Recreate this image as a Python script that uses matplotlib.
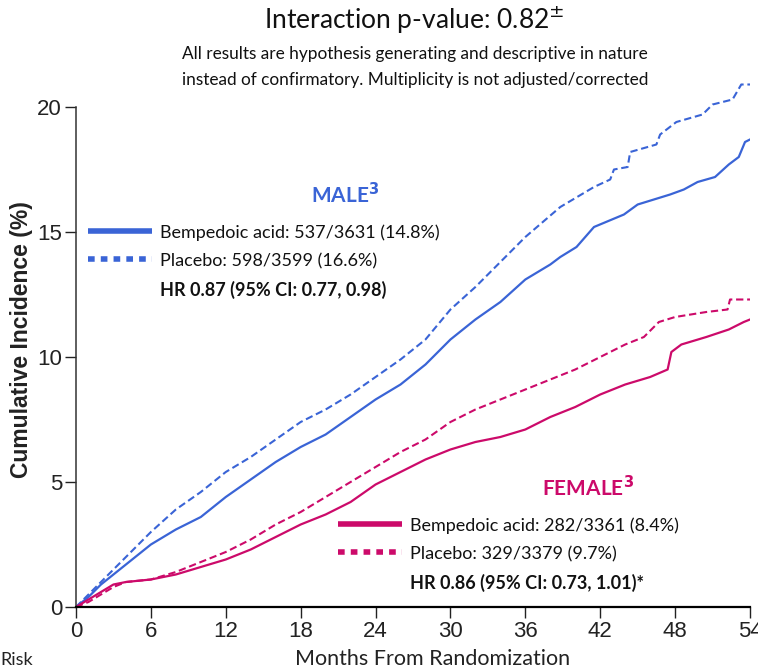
import matplotlib
matplotlib.use('Agg')
import matplotlib.pyplot as plt

# curve readings (months, cumulative incidence %)
male_bemp_t = [0, 1, 2, 3, 4, 6, 8, 10, 12, 14, 16, 18, 20, 22, 24, 26, 28, 30, 32, 34, 36, 38,
               38.8, 40.1, 41.5, 43.9, 45.0, 46.3, 47.6, 48.7, 49.8, 51.2, 52.3, 53.1, 53.6, 54]
male_bemp_y = [0, 0.4, 0.9, 1.3, 1.7, 2.5, 3.1, 3.6, 4.4, 5.1, 5.8, 6.4, 6.9, 7.6, 8.3, 8.9, 9.7, 10.7, 11.5, 12.2, 13.1, 13.7,
               14.0, 14.4, 15.2, 15.7, 16.1, 16.3, 16.5, 16.7, 17.0, 17.2, 17.7, 18.0, 18.6, 18.7]

male_plac_t = [0, 1, 2, 3, 4, 6, 8, 10, 12, 14, 16, 18, 20, 22, 24, 26, 28, 30, 32, 34, 36, 38.8,
               41.5, 42.8, 43.1, 44.2, 44.4, 46.5, 46.8, 48.1, 50.2, 51.0, 52.6, 53.3, 54]
male_plac_y = [0, 0.5, 1.0, 1.5, 2.0, 3.0, 3.9, 4.6, 5.4, 6.0, 6.7, 7.4, 7.9, 8.5, 9.2, 9.9, 10.7, 11.9, 12.8, 13.8, 14.8, 16.0,
               16.8, 17.1, 17.5, 17.6, 18.2, 18.5, 18.9, 19.4, 19.7, 20.1, 20.3, 20.9, 20.9]

fem_bemp_t = [0, 1, 2, 3, 4, 6, 8, 10, 12, 14, 16, 18, 20, 22, 24, 26, 28, 30, 32, 34, 36, 38, 40, 42, 44, 46,
              47.4, 47.7, 48.5, 50.5, 52.3, 53.5, 54]
fem_bemp_y = [0, 0.3, 0.6, 0.9, 1.0, 1.1, 1.3, 1.6, 1.9, 2.3, 2.8, 3.3, 3.7, 4.2, 4.9, 5.4, 5.9, 6.3, 6.6, 6.8, 7.1, 7.6, 8.0, 8.5, 8.9, 9.2,
              9.5, 10.2, 10.5, 10.8, 11.1, 11.4, 11.5]

fem_plac_t = [0, 1, 2, 3, 4, 6, 8, 10, 12, 14, 16, 18, 20, 22, 24, 26, 28, 30, 32, 34, 36, 38, 40, 42, 44, 45.5,
              46.7, 48, 50.5, 52.2, 52.4, 54]
fem_plac_y = [0, 0.2, 0.5, 0.8, 1.0, 1.1, 1.4, 1.8, 2.2, 2.7, 3.3, 3.8, 4.4, 5.0, 5.6, 6.2, 6.7, 7.4, 7.9, 8.3, 8.7, 9.1, 9.5, 10.0, 10.5, 10.8,
              11.4, 11.6, 11.8, 11.9, 12.3, 12.3]

x_ticks = [0, 6, 12, 18, 24, 30, 36, 42, 48, 54]
y_ticks = [0, 5, 10, 15, 20]

blue = '#3a64d6'
pink = '#cc0a6a'
body = ['Lato', 'DejaVu Sans']

fig = plt.figure(figsize=(7.58, 6.69), dpi=100)
ax = fig.add_axes([76 / 758, 1 - 607 / 669, 674 / 758, 525 / 669])

ax.plot(male_bemp_t, male_bemp_y, color=blue, lw=1.6)
ax.plot(male_plac_t, male_plac_y, color=blue, lw=1.5, ls=(0, (3.5, 1.8)))
ax.plot(fem_bemp_t, fem_bemp_y, color=pink, lw=1.6)
ax.plot(fem_plac_t, fem_plac_y, color=pink, lw=1.5, ls=(0, (3.5, 1.8)))

ax.set_xlim(0, 54)
ax.set_ylim(0, 21)
ax.spines['top'].set_visible(False)
ax.spines['right'].set_visible(False)
ax.spines['left'].set_bounds(0, 20)
ax.spines['left'].set_linewidth(1.1)
ax.spines['left'].set_color('#333333')
ax.spines['bottom'].set_linewidth(1.6)
ax.set_xticks(x_ticks)
ax.set_yticks(y_ticks)
ax.tick_params(length=8, width=1, labelsize=16, pad=2, colors='#222222')
for lab in ax.get_xticklabels() + ax.get_yticklabels():
    lab.set_family(['Liberation Sans', 'DejaVu Sans'])

fig.text(22 / 758, 1 - 340 / 669, 'Cumulative Incidence (%)', rotation=90, ha='center', va='center',
         fontsize=16.5, fontweight='bold', family=['Liberation Sans', 'DejaVu Sans'], color='#222222')
fig.text(433 / 758, 1 - 659 / 669, 'Months From Randomization', ha='center', va='center',
         fontsize=15.5, family=body, color='#222222')
fig.text(0, 1 - 660 / 669, 'Risk', ha='left', va='center', fontsize=13, family=body, color='#222222')

# titles
fig.text(414 / 758, 1 - 20 / 669, 'Interaction p-value: 0.82$^{\\pm}$', ha='center', va='center',
         fontsize=19, family=body, color='#111111')
fig.text(415 / 758, 1 - 54 / 669, 'All results are hypothesis generating and descriptive in nature',
         ha='center', va='center', fontsize=12.4, family=body, color='#111111')
fig.text(415 / 758, 1 - 80 / 669, 'instead of confirmatory. Multiplicity is not adjusted/corrected',
         ha='center', va='center', fontsize=12.4, family=body, color='#111111')


def legend_block(x_line, x_text, y_head, x_head, head, color, lines):
    fig.text(x_head / 758, 1 - y_head / 669, head, ha='center', va='center', fontsize=15,
             fontweight='bold', color=color, family=body)
    ys = [y_head + 38, y_head + 66, y_head + 95]
    fig.add_artist(plt.Line2D([x_line / 758, (x_line + 64) / 758], [1 - (ys[0] - 2) / 669] * 2,
                              color=color, lw=4, solid_capstyle='butt'))
    fig.add_artist(plt.Line2D([x_line / 758, (x_line + 64) / 758], [1 - (ys[1] - 2) / 669] * 2,
                              color=color, lw=4, ls=(0, (1.2, 1.1)), dash_capstyle='butt'))
    for i, s in enumerate(lines):
        fig.text(x_text / 758, 1 - ys[i] / 669, s, ha='left', va='center', fontsize=13,
                 fontweight='bold' if i == 2 else 'normal', color='#111111', family=body)


legend_block(88, 160, 195, 345, 'MALE$^{\\mathbf{3}}$', blue,
             ['Bempedoic acid: 537/3631 (14.8%)', 'Placebo: 598/3599 (16.6%)',
              'HR 0.87 (95% CI: 0.77, 0.98)'])
legend_block(338, 410, 488, 588, 'FEMALE$^{\\mathbf{3}}$', pink,
             ['Bempedoic acid: 282/3361 (8.4%)', 'Placebo: 329/3379 (9.7%)',
              'HR 0.86 (95% CI: 0.73, 1.01)*'])

fig.savefig('out.png', dpi=100)
